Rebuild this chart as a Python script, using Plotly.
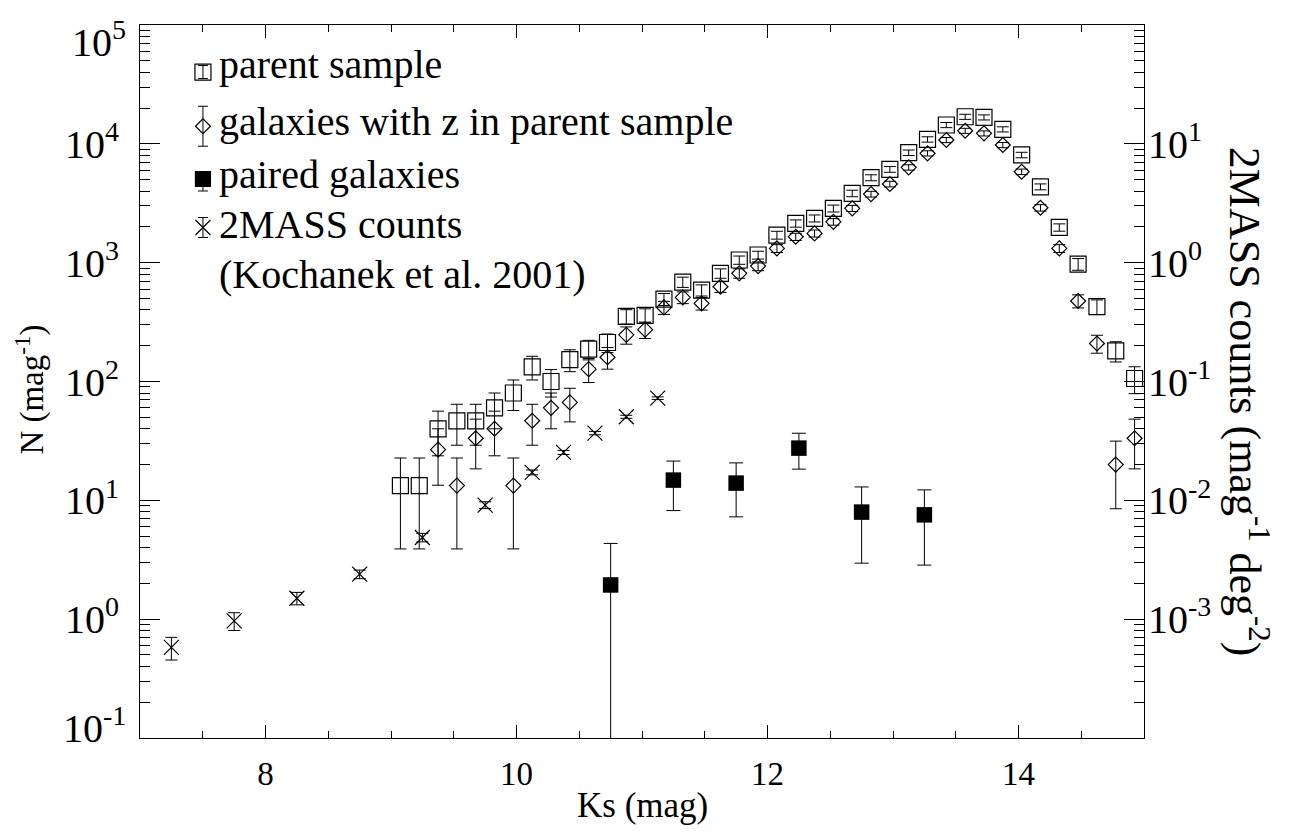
import plotly.graph_objects as go

# ---------------- data ----------------
ks_parent = [9.075, 9.225, 9.375, 9.525, 9.675, 9.825, 9.975, 10.125, 10.275, 10.425,
             10.575, 10.725, 10.875, 11.025, 11.175, 11.325, 11.475, 11.625, 11.775, 11.925,
             12.075, 12.225, 12.375, 12.525, 12.675, 12.825, 12.975, 13.125, 13.275, 13.425,
             13.575, 13.725, 13.875, 14.025, 14.175, 14.325, 14.475, 14.625, 14.775, 14.925]
n_parent = [13.3, 13.3, 40, 46.7, 46.7, 60, 80, 133, 100, 153,
            187, 213, 353, 360, 493, 687, 587, 813, 1053, 1160,
            1707, 2140, 2360, 2860, 3830, 5190, 6100, 8420, 10900, 14400,
            16900, 16700, 13250, 8060, 4350, 1980, 973, 426, 181, 106]
err_parent = [9.4, 9.4, 16.3, 17.6, 17.6, 20, 23, 30, 26, 32,
              35, 38, 49, 49, 57, 68, 63, 74, 84, 88,
              130, 150, 160, 190, 240, 300, 340, 450, 560, 720,
              830, 820, 660, 430, 250, 140, 110, 60, 35, 27]

ks_z = [9.375, 9.525, 9.675, 9.825, 9.975, 10.125, 10.275, 10.425, 10.575, 10.725,
        10.875, 11.025, 11.175, 11.325, 11.475, 11.625, 11.775, 11.925, 12.075, 12.225,
        12.375, 12.525, 12.675, 12.825, 12.975, 13.125, 13.275, 13.425, 13.575, 13.725,
        13.875, 14.025, 14.175, 14.325, 14.475, 14.625, 14.775, 14.925]
n_z = [26.7, 13.3, 33.3, 40, 13.3, 46.7, 60, 66.7, 127, 160,
       247, 273, 420, 510, 454, 627, 813, 936, 1318, 1652,
       1763, 2207, 2865, 3776, 4590, 6340, 8320, 10770, 12880, 12250,
       9770, 5820, 2897, 1318, 476, 209, 20, 33.3]
err_z = [13.3, 9.4, 14.9, 16.3, 9.4, 17.6, 20, 21, 29, 33,
         41, 43, 53, 58, 55, 65, 74, 80, 100, 115,
         120, 140, 170, 210, 250, 330, 420, 530, 630, 600,
         490, 310, 180, 100, 60, 36, 11.5, 14.9]

ks_pair = [10.75, 11.25, 11.75, 12.25, 12.75, 13.25]
n_pair = [1.94, 14.8, 13.96, 27.5, 7.96, 7.55]
err_pair = [2.4, 6.6, 6.7, 9.2, 5.0, 4.7]

# 2MASS counts in mag^-1 deg^-2 (right axis units)
ks_2mass = [7.25, 7.75, 8.25, 8.75, 9.25, 9.75, 10.125, 10.375, 10.625, 10.875, 11.125]
n_2mass = [0.000578, 0.000968, 0.00150, 0.00239, 0.00487, 0.00912, 0.0172, 0.0253, 0.0368, 0.0505, 0.0724]
err_2mass = [0.000125, 0.000165, 0.00018, 0.0002, 0.0004, 0.0006, 0.0008, 0.001, 0.0012, 0.0015, 0.0018]

legend_labels = ["parent sample", "galaxies with z in parent sample", "paired galaxies",
                 "2MASS counts", "(Kochanek et al. 2001)"]

left_tickvals = [1e-1, 1e0, 1e1, 1e2, 1e3, 1e4, 1e5]
left_ticktext = ["", "10<sup>0</sup>", "10<sup>1</sup>", "10<sup>2</sup>",
                 "10<sup>3</sup>", "10<sup>4</sup>", ""]
# end labels of the left axis are drawn nudged inward, as in the reference
end_label_exp = [5, -1]
end_label_text = ["10<sup>5</sup>", "10<sup>-1</sup>"]
end_label_shift = [-14, 12]
right_tickvals = [1e-3, 1e-2, 1e-1, 1e0, 1e1]
right_ticktext = ["10<sup>-3</sup>", "10<sup>-2</sup>", "10<sup>-1</sup>", "10<sup>0</sup>", "10<sup>1</sup>"]
x_tickvals = [8, 10, 12, 14]

FONT = "Liberation Serif, Times New Roman, Times, serif"
BLACK = "black"

left_minor = [k * 10.0 ** e for e in range(-1, 5) for k in range(2, 10)]
right_minor = [k * 10.0 ** e for e in range(-4, 2) for k in range(2, 10)]

fig = go.Figure()

def eb(arr, w):
    return dict(type="data", array=arr, visible=True, color=BLACK, thickness=1, width=w)

fig.add_trace(go.Scatter(x=ks_parent, y=n_parent, mode="markers",
                         marker=dict(symbol="square-open", size=16, color=BLACK, line=dict(width=1.2, color=BLACK)),
                         error_y=eb(err_parent, 6), showlegend=False, cliponaxis=False))
fig.add_trace(go.Scatter(x=ks_z, y=n_z, mode="markers",
                         marker=dict(symbol="diamond-open", size=11.5, color=BLACK, line=dict(width=1.2, color=BLACK)),
                         error_y=eb(err_z, 6), showlegend=False, cliponaxis=False))
fig.add_trace(go.Scatter(x=ks_pair, y=n_pair, mode="markers",
                         marker=dict(symbol="square", size=15.5, color=BLACK, line=dict(width=0)),
                         error_y=eb(err_pair, 7), showlegend=False))
fig.add_trace(go.Scatter(x=ks_2mass, y=n_2mass, mode="markers", yaxis="y2",
                         marker=dict(symbol="x-thin-open", size=15, color=BLACK, line=dict(width=1.2, color=BLACK)),
                         error_y=eb(err_2mass, 6), showlegend=False))

# ---- hand-made legend on an overlay axis spanning the plot area (0..1) ----
leg_x = 0.0627
leg_syms = ["square-open", "diamond-open", "square", "x-thin-open"]
leg_sizes = [16, 11.5, 15, 15]
leg_y = [0.934, 0.858, 0.784, 0.716]
leg_err_up = [0.0091, 0.028, 0.004, 0.014]
leg_err_dn = [0.0091, 0.028, 0.0168, 0.014]
for s, sz, yy, eu, ed in zip(leg_syms, leg_sizes, leg_y, leg_err_up, leg_err_dn):
    fig.add_trace(go.Scatter(x=[leg_x], y=[yy], mode="markers", xaxis="x3", yaxis="y3",
                             marker=dict(symbol=s, size=sz, color=BLACK, line=dict(width=1.2, color=BLACK)),
                             error_y=dict(type="data", array=[eu], arrayminus=[ed], symmetric=False,
                                          color=BLACK, thickness=1, width=5),
                             showlegend=False, hoverinfo="skip"))

leg_text_y = [0.945, 0.865, 0.790, 0.720, 0.650]
for txt, yy in zip(legend_labels, leg_text_y):
    fig.add_annotation(x=0.0764, y=yy, xref="paper", yref="paper", text=txt, showarrow=False,
                       xanchor="left", yanchor="middle", font=dict(family=FONT, size=40, color=BLACK))

for ex, tx, sh in zip(end_label_exp, end_label_text, end_label_shift):
    fig.add_annotation(x=-0.012, y=ex, xref="paper", yref="y", text=tx, showarrow=False,
                       xanchor="right", yanchor="middle", yshift=sh,
                       font=dict(family=FONT, size=40, color=BLACK))

# axis titles
fig.add_annotation(x=-0.110, y=0.488, xref="paper", yref="paper", text="N (mag<sup>-1</sup>)",
                   textangle=-90, showarrow=False, xanchor="center", yanchor="middle",
                   font=dict(family=FONT, size=33, color=BLACK))
fig.add_annotation(x=1.104, y=0.471, xref="paper", yref="paper",
                   text="2MASS counts (mag<sup>-1</sup> deg<sup>-2</sup>)",
                   textangle=90, showarrow=False, xanchor="center", yanchor="middle",
                   font=dict(family=FONT, size=44, color=BLACK))
fig.add_annotation(x=0.5, y=-0.095, xref="paper", yref="paper", text="Ks (mag)",
                   showarrow=False, xanchor="center", yanchor="middle",
                   font=dict(family=FONT, size=35, color=BLACK))

axis_common = dict(showline=True, linecolor=BLACK, linewidth=1, ticks="inside", tickcolor=BLACK,
                   tickwidth=1, showgrid=False, zeroline=False)

# page body has an 8 px margin: figure is 1282x827 placed at (8,8)
fig.update_layout(
    width=1282, height=827,
    margin=dict(l=132, r=146, t=17, b=97),
    paper_bgcolor="white", plot_bgcolor="white",
    showlegend=False,
    font=dict(family=FONT, color=BLACK),
    xaxis=dict(range=[7, 15], tickvals=x_tickvals, ticklen=13, mirror="ticks",
               tickfont=dict(family=FONT, size=33, color=BLACK), ticklabelstandoff=6,
               minor=dict(tick0=7, dtick=0.5, ticks="inside", ticklen=7, tickcolor=BLACK, tickwidth=1),
               **axis_common),
    yaxis=dict(type="log", range=[-1.0001, 5.0001], tickvals=left_tickvals, ticktext=left_ticktext, ticklen=20,
               tickfont=dict(family=FONT, size=40, color=BLACK), ticklabelstandoff=12,
               minor=dict(tickvals=left_minor, ticks="inside", ticklen=10, tickcolor=BLACK, tickwidth=1),
               **axis_common),
    yaxis2=dict(type="log", range=[-4.0001, 2.0001], overlaying="y", side="right", anchor="x",
                tickvals=right_tickvals, ticktext=right_ticktext, ticklen=20,
                tickfont=dict(family=FONT, size=40, color=BLACK), ticklabelstandoff=-5,
                minor=dict(tickvals=right_minor, ticks="inside", ticklen=10, tickcolor=BLACK, tickwidth=1),
                **axis_common),
    xaxis3=dict(range=[0, 1], overlaying="x", visible=False, fixedrange=True),
    yaxis3=dict(range=[0, 1], overlaying="y", visible=False, fixedrange=True, anchor="x3"),
)

fig.write_html("out.html")
